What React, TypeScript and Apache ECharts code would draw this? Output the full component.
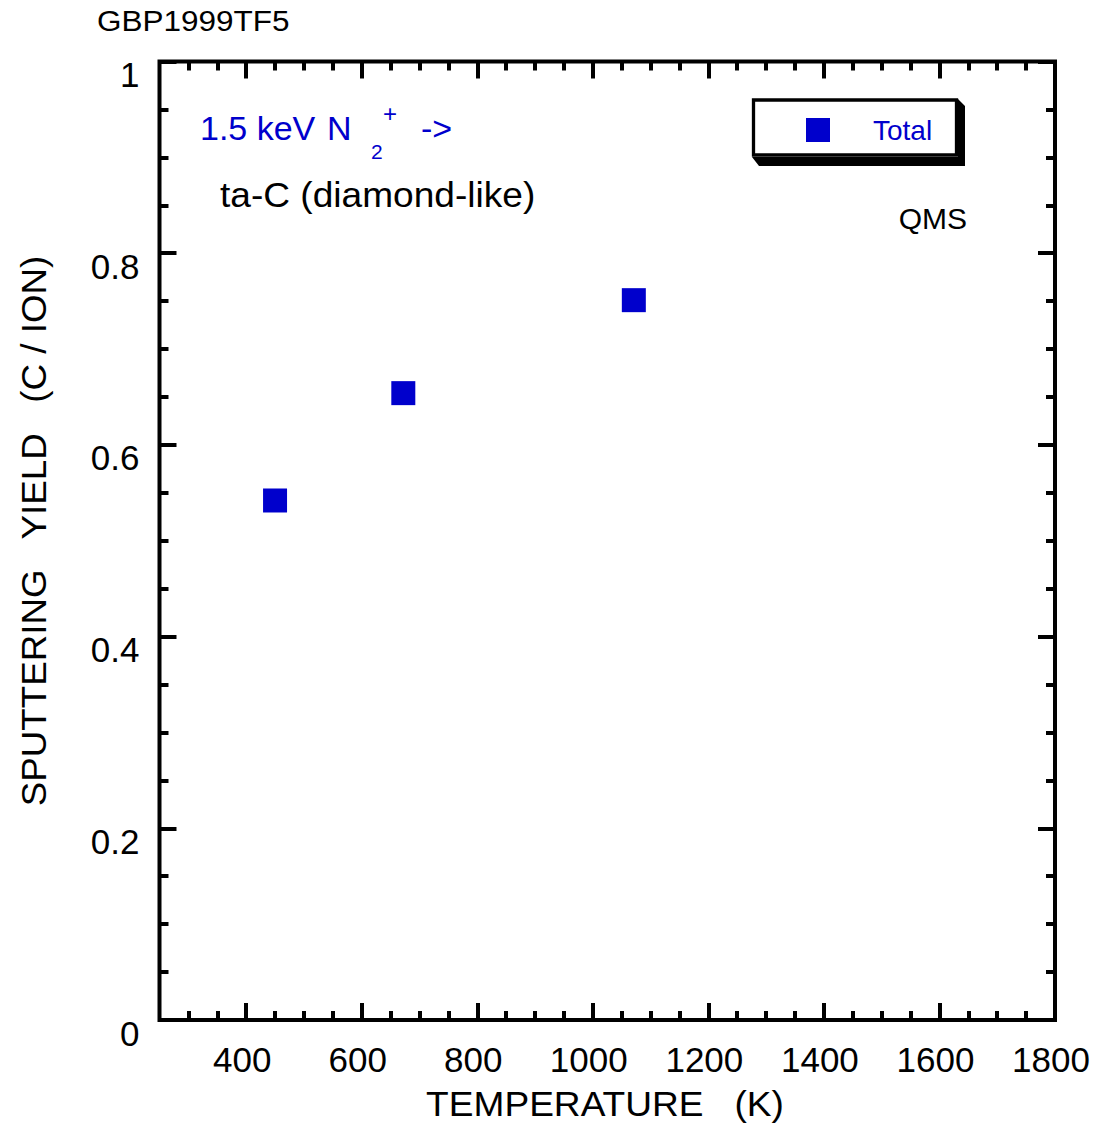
import React, { useEffect, useRef } from "react";
import * as echarts from "echarts";

const temperatures = [450, 672, 1071];
const totalYield = [0.542, 0.654, 0.751];
const seriesName = "Total";

const xMajorTicks = [400, 600, 800, 1000, 1200, 1400, 1600, 1800];
const xMinorTicks = [
  300, 350, 450, 500, 550, 650, 700, 750, 850, 900, 950, 1050, 1100, 1150,
  1250, 1300, 1350, 1450, 1500, 1550, 1650, 1700, 1750,
];

const FONT = "'Liberation Sans', Arial, Helvetica, sans-serif";
const BLUE = "#0000CC";

export default function App() {
  const ref = useRef<HTMLDivElement>(null);

  useEffect(() => {
    if (!ref.current) return;
    const chart = echarts.init(ref.current, null, { renderer: "svg" });

    const tickStyle = { color: "#000", width: 4 };
    const baseX = {
      type: "value",
      min: 250,
      max: 1800,
      splitLine: { show: false },
      axisLine: { show: false },
    };
    const xAxes = [
      {
        ...baseX,
        position: "bottom",
        axisTick: { show: true, inside: true, length: 17, lineStyle: tickStyle, customValues: xMajorTicks },
        axisLabel: {
          show: true,
          customValues: xMajorTicks,
          fontFamily: FONT,
          fontSize: 35,
          color: "#000",
          margin: 21,
          lineHeight: 36,
          padding: [0, 8, 0, 0],
          formatter: (v: number) => String(v),
        },
      },
      {
        ...baseX,
        position: "bottom",
        axisTick: { show: true, inside: true, length: 9, lineStyle: tickStyle, customValues: xMinorTicks },
        axisLabel: { show: false },
      },
      {
        ...baseX,
        position: "top",
        axisTick: { show: true, inside: true, length: 17, lineStyle: tickStyle, customValues: xMajorTicks },
        axisLabel: { show: false },
      },
      {
        ...baseX,
        position: "top",
        axisTick: { show: true, inside: true, length: 9, lineStyle: tickStyle, customValues: xMinorTicks },
        axisLabel: { show: false },
      },
    ];

    const baseY = {
      type: "value",
      min: 0,
      max: 1,
      interval: 0.2,
      splitLine: { show: false },
      axisLine: { show: false },
      axisTick: { show: true, inside: true, length: 17, lineStyle: tickStyle },
      minorTick: { show: true, splitNumber: 4, length: 9, lineStyle: tickStyle },
    };
    const yAxes = [
      {
        ...baseY,
        position: "left",
        axisLabel: {
          show: true,
          fontFamily: FONT,
          fontSize: 35,
          color: "#000",
          margin: 20,
          verticalAlign: "top",
          lineHeight: 26,
          formatter: (v: number) => String(Math.round(v * 10) / 10),
        },
      },
      { ...baseY, position: "right", axisLabel: { show: false } },
    ];

    const txt = (
      text: string,
      x: number,
      y: number,
      size: number,
      color: string,
      align = "left",
      extra: any = {}
    ) => ({
      type: "text",
      x,
      y,
      z: 10,
      ...extra,
      style: {
        text,
        font: `${size}px ${FONT}`,
        fill: color,
        textAlign: align,
        textVerticalAlign: "middle",
        align,
        verticalAlign: "middle",
      },
    });

    chart.setOption({
      animation: false,
      backgroundColor: "#fff",
      grid: {
        left: 159.5,
        right: 1108 - 1055,
        top: 61.5,
        bottom: 1134 - 1020,
        show: true,
        borderColor: "#000",
        borderWidth: 4,
        backgroundColor: "transparent",
        containLabel: false,
      },
      xAxis: xAxes,
      yAxis: yAxes,
      legend: {
        show: true,
        left: 806,
        top: 116,
        padding: 0,
        itemWidth: 24,
        itemHeight: 24,
        icon: "rect",
        z: 20,
        data: [seriesName],
        itemStyle: { opacity: 1 },
        textStyle: { fontFamily: FONT, fontSize: 28, color: BLUE, padding: [0, 0, 0, 38] },
      },
      series: [
        {
          name: seriesName,
          type: "scatter",
          symbol: "rect",
          symbolSize: 24,
          itemStyle: { color: BLUE, opacity: 1 },
          data: temperatures.map((t, i) => [t, totalYield[i]]),
          z: 5,
        },
      ],
      graphic: [
        {
          type: "polygon",
          z: 1,
          shape: {
            points: [
              [958, 99],
              [965, 106],
              [965, 166],
              [759, 166],
              [752, 157],
              [958, 157],
            ],
          },
          style: { fill: "#000" },
        },
        {
          type: "rect",
          z: 2,
          shape: { x: 753.5, y: 100, width: 203, height: 55 },
          style: { fill: "#fff", stroke: "#000", lineWidth: 3.3 },
        },
        txt("GBP1999TF5", 97, 21, 30, "#000", "left", { scaleX: 1.05 }),
        txt("1.5 keV", 200, 128, 34, BLUE),
        txt("N", 327, 128, 34, BLUE),
        txt("2", 371, 151, 21, BLUE),
        txt("+", 383, 113, 24, BLUE),
        txt("->", 421, 128, 34, BLUE),
        txt("ta-C (diamond-like)", 220, 195, 35, "#000", "left", { scaleX: 1.06 }),
        txt("QMS", 967, 218, 30, "#000", "right"),
        txt("TEMPERATURE   (K)", 605, 1104, 35, "#000", "center", { scaleX: 1.06 }),
        txt("SPUTTERING   YIELD   (C / ION)", 34, 531, 35, "#000", "center", {
          rotation: Math.PI / 2,
          scaleX: 1.05,
        }),
      ],
    });

    return () => chart.dispose();
  }, []);

  return (
    <div
      ref={ref}
      style={{ position: "absolute", left: 0, top: 0, width: 1108, height: 1134, background: "#fff" }}
    />
  );
}
